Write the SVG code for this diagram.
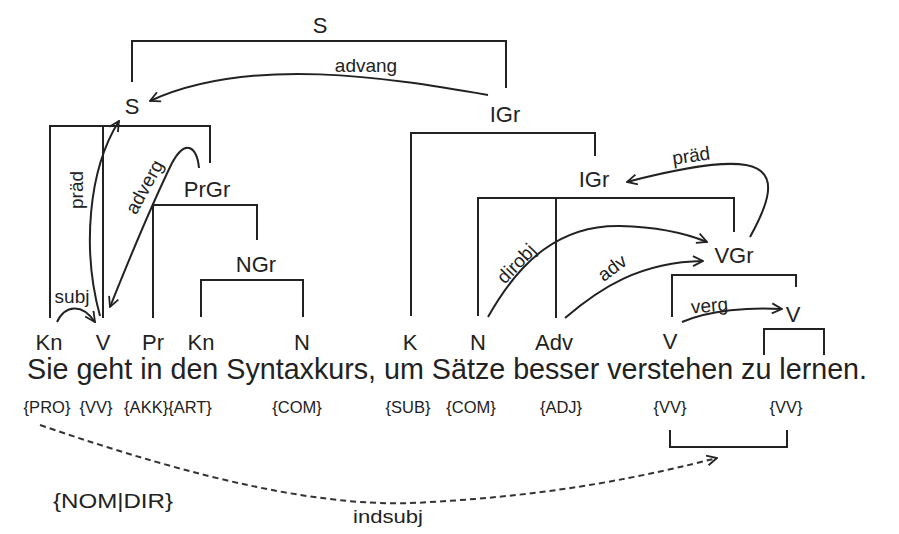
<svg xmlns="http://www.w3.org/2000/svg" width="899" height="534" viewBox="0 0 899 534">
<defs>
<style>
text{font-family:"Liberation Sans",Arial,sans-serif;fill:#222}
.lbl{font-size:22px;text-anchor:middle}
.rel{font-size:19px;text-anchor:middle}
.tag{font-size:16.5px;text-anchor:middle}
.sent{font-size:29px}
.br{fill:none;stroke:#222;stroke-width:2}
.arr{fill:none;stroke:#222;stroke-width:2;marker-end:url(#ah)}
.dash{fill:none;stroke:#333;stroke-width:2;stroke-dasharray:6 4;marker-end:url(#ah)}
</style>
<marker id="ah" viewBox="0 0 12 12" refX="11" refY="6" markerWidth="12" markerHeight="12" markerUnits="userSpaceOnUse" orient="auto">
<path d="M1,1 L11,6 L1,11" fill="none" stroke="#222" stroke-width="1.8"/>
</marker>
</defs>
<rect width="899" height="534" fill="#fff"/>

<g id="brackets">
<path class="br" d="M132,82 V41 H506 V88"/>
<path class="br" d="M50,318 V126 H210 V163 M103,126 V318"/>
<path class="br" d="M153,318 V205 H257 V240"/>
<path class="br" d="M201,317 V280 H303 V317"/>
<path class="br" d="M411,316 V133 H595 V156"/>
<path class="br" d="M478,316 V198 H734 V232 M556,198 V318"/>
<path class="br" d="M672,317 V275 H796 V287"/>
<path class="br" d="M764,355 V329 H824 V355"/>
<path class="br" d="M670,430 V447 H787 V430"/>
</g>

<g id="connectors">
<path class="arr" d="M488,95 C390,78 250,55 150,101"/>
<path class="arr" d="M100,316 C82,250 88,170 119,121"/>
<path class="arr" d="M199,168 C197,148 186,137 172,163 C155,198 128,262 110,307"/>
<path class="arr" d="M57,322 C65,305 82,303 95,322"/>
<path class="arr" d="M750,237 C790,165 770,145 627,182"/>
<path class="arr" d="M488,317 C520,260 560,225 620,226 C660,227 690,235 707,242"/>
<path class="arr" d="M565,318 C600,288 640,262 703,261"/>
<path class="arr" d="M682,322 C710,310 750,307 782,309"/>
<path class="dash" d="M40,425 C200,480 330,510 430,502 C560,495 650,475 717,458"/>
</g>

<g id="relation-labels">
<text class="rel" x="366" y="72">advang</text>
<text class="rel" transform="translate(83,190) rotate(-90)">präd</text>
<text class="rel" transform="translate(150,190) rotate(-61)">adverg</text>
<text class="rel" x="72" y="303">subj</text>
<text class="rel" transform="translate(692,162) rotate(-8)">präd</text>
<text class="rel" transform="translate(521,268) rotate(-46)">dirobj</text>
<text class="rel" transform="translate(616,273) rotate(-37)">adv</text>
<text class="rel" transform="translate(710,312) rotate(-5)">verg</text>
<text class="rel" x="388" y="523" textLength="70" lengthAdjust="spacingAndGlyphs">indsubj</text>
</g>

<g id="node-S-top"><text class="lbl" x="320" y="33">S</text></g>
<g id="node-S"><text class="lbl" x="132" y="114">S</text></g>
<g id="node-PrGr"><text class="lbl" x="207" y="197">PrGr</text></g>
<g id="node-NGr"><text class="lbl" x="256" y="272">NGr</text></g>
<g id="node-IGr1"><text class="lbl" x="505" y="122">IGr</text></g>
<g id="node-IGr2"><text class="lbl" x="594" y="187">IGr</text></g>
<g id="node-VGr"><text class="lbl" x="734" y="263">VGr</text></g>
<g id="node-V-upper"><text class="lbl" x="793" y="322">V</text></g>

<g id="node-Kn1"><text class="lbl" x="49" y="350">Kn</text></g>
<g id="node-V1"><text class="lbl" x="103" y="350">V</text></g>
<g id="node-Pr"><text class="lbl" x="153" y="350">Pr</text></g>
<g id="node-Kn2"><text class="lbl" x="201" y="350">Kn</text></g>
<g id="node-N1"><text class="lbl" x="302" y="350">N</text></g>
<g id="node-K"><text class="lbl" x="410" y="350">K</text></g>
<g id="node-N2"><text class="lbl" x="478" y="350">N</text></g>
<g id="node-Adv"><text class="lbl" x="554" y="350">Adv</text></g>
<g id="node-V2"><text class="lbl" x="670" y="349">V</text></g>

<g id="sentence">
<text class="sent" x="27" y="379" textLength="840" lengthAdjust="spacingAndGlyphs">Sie geht in den Syntaxkurs, um Sätze besser verstehen zu lernen.</text>
</g>

<g id="tags">
<text class="tag" x="47" y="413">{PRO}</text>
<text class="tag" x="96" y="413">{VV}</text>
<text class="tag" x="168" y="413">{AKK}{ART}</text>
<text class="tag" x="297" y="413">{COM}</text>
<text class="tag" x="408" y="413">{SUB}</text>
<text class="tag" x="471" y="413">{COM}</text>
<text class="tag" x="561" y="413">{ADJ}</text>
<text class="tag" x="670" y="413">{VV}</text>
<text class="tag" x="786" y="413">{VV}</text>
<text class="tag" x="113" y="508" textLength="120" lengthAdjust="spacingAndGlyphs" style="font-size:20px">{NOM|DIR}</text>
</g>
</svg>
